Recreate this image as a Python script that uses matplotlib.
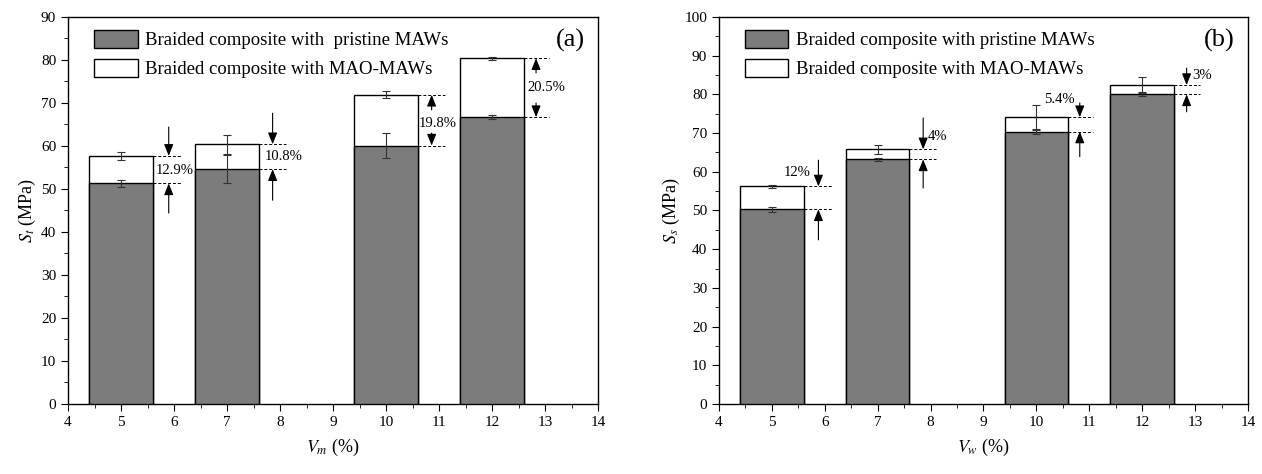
import numpy as np
import matplotlib.pyplot as plt
from matplotlib.ticker import MultipleLocator

plt.rcParams['font.family'] = ['Liberation Serif', 'DejaVu Serif']
plt.rcParams['mathtext.fontset'] = 'stix'

# 데이터
vm = [5, 7, 10, 12]

pristine_a = [51.3, 54.6, 60.1, 66.7]
pristine_a_err = [0.8, 3.2, 2.9, 0.4]
mao_a = [57.7, 60.4, 71.9, 80.4]
mao_a_err = [1.0, 2.2, 0.8, 0.4]
pct_a = ['12.9%', '10.8%', '19.8%', '20.5%']

pristine_b = [50.3, 63.2, 70.4, 80.0]
pristine_b_err = [0.7, 0.4, 0.6, 0.5]
mao_b = [56.2, 65.8, 74.1, 82.4]
mao_b_err = [0.3, 1.1, 3.2, 2.1]
pct_b = ['12%', '4%', '5.4%', '3%']

# 화살표/텍스트 배치 (x, 방식, 위쪽 화살표 시작, 아래쪽 화살표 시작, 텍스트 x, 텍스트 y)
layout_a = [
    (5.9, 'out', 64.4, 44.4, 6.02, 54.2),
    (7.86, 'out', 67.6, 47.4, 8.06, 57.5),
    (10.86, 'in', 68.4, 63.0, 10.98, 65.3),
    (12.83, 'in', 77.0, 70.0, 13.02, 73.6),
]
layout_b = [
    (5.88, 'out', 63.0, 42.4, 5.47, 59.8),
    (7.86, 'out', 73.9, 55.8, 8.14, 69.2),
    (10.82, 'out', 77.8, 63.9, 10.43, 78.6),
    (12.84, 'out', 86.8, 75.5, 13.13, 84.8),
]

fig = plt.figure(figsize=(12.62, 4.74), dpi=100)
ax_a = fig.add_axes([0.0539, 0.1477, 0.42, 0.8165])
ax_b = fig.add_axes([0.5697, 0.1477, 0.4192, 0.8165])

width = 1.2
gray = '#7c7c7c'


def draw_panel(ax, pristine, p_err, mao, m_err, pct, layout, ymax, tag, ylab, xlab):
    ax.bar(vm, mao, width, color='white', edgecolor='black', linewidth=1.0,
           label='Braided composite with MAO-MAWs', zorder=2)
    ax.bar(vm, pristine, width, color=gray, edgecolor='black', linewidth=1.0,
           label='Braided composite with  pristine MAWs' if tag == '(a)'
           else 'Braided composite with pristine MAWs', zorder=3)
    ax.errorbar(vm, mao, yerr=m_err, fmt='none', ecolor='#333333', elinewidth=0.8,
                capsize=3, capthick=0.8, zorder=4)
    ax.errorbar(vm, pristine, yerr=p_err, fmt='none', ecolor='#333333', elinewidth=0.8,
                capsize=3, capthick=0.8, zorder=4)

    for i, (ax_x, style, top_start, bot_start, tx, ty) in enumerate(layout):
        x_right = vm[i] + width / 2
        for yv in (mao[i], pristine[i]):
            ax.plot([x_right, ax_x + 0.25], [yv, yv], color='black', lw=0.7,
                    ls=(0, (3, 2)), zorder=5)
        arrow = dict(arrowstyle='-|>,head_length=0.7,head_width=0.28',
                     color='black', lw=0.8, shrinkA=0, shrinkB=0)
        ax.annotate('', xy=(ax_x, mao[i]), xytext=(ax_x, top_start), arrowprops=arrow)
        ax.annotate('', xy=(ax_x, pristine[i]), xytext=(ax_x, bot_start), arrowprops=arrow)
        ax.text(tx, ty, pct[i], fontsize=10.5, ha='center', va='center', zorder=6)

    ax.set_xlim(4, 14)
    ax.set_ylim(0, ymax)
    ax.xaxis.set_major_locator(MultipleLocator(1))
    ax.xaxis.set_minor_locator(MultipleLocator(0.5))
    ax.yaxis.set_major_locator(MultipleLocator(10))
    ax.yaxis.set_minor_locator(MultipleLocator(5))
    ax.tick_params(which='both', direction='out', top=False, right=False, labelsize=11)
    ax.tick_params(which='major', length=5)
    ax.tick_params(which='minor', length=3)
    for s in ax.spines.values():
        s.set_linewidth(1.0)
    ax.set_ylabel(ylab, fontsize=13, labelpad=2)
    ax.set_xlabel(xlab, fontsize=13, labelpad=6)
    ax.text(0.975, 0.97, tag, transform=ax.transAxes, fontsize=19, ha='right', va='top')

    h, l = ax.get_legend_handles_labels()
    ax.legend(h[::-1], l[::-1], loc='upper left', bbox_to_anchor=(0.025, 1.0),
              frameon=False, fontsize=13.5, handlelength=2.3, handleheight=1.1,
              labelspacing=0.5, handletextpad=0.4, borderaxespad=0.3)


draw_panel(ax_a, pristine_a, pristine_a_err, mao_a, mao_a_err, pct_a, layout_a,
           90, '(a)', r'$S_t$ (MPa)', r'$V_m$ (%)')
draw_panel(ax_b, pristine_b, pristine_b_err, mao_b, mao_b_err, pct_b, layout_b,
           100, '(b)', r'$S_s$ (MPa)', r'$V_w$ (%)')

plt.savefig('out.png', dpi=100)
